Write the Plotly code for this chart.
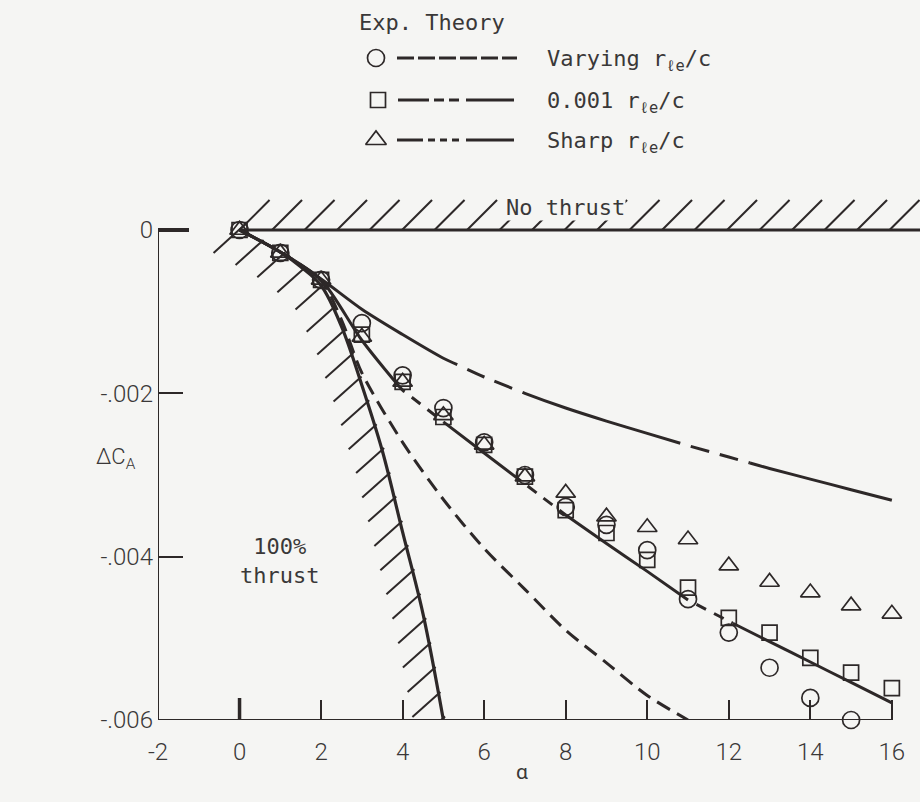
import numpy as np
import plotly.graph_objects as go

W, H = 920, 802
BG = "#f5f5f3"
INK = "#2d2828"
TXT = "#3a3838"
MONO = "DejaVu Sans Mono, Liberation Mono, monospace"
SANS = "Roboto, Liberation Sans, sans-serif"

# ---------------- experimental points ----------------
alpha_exp = [0, 1, 2, 3, 4, 5, 6, 7, 8, 9, 10, 11, 12, 13, 14, 15, 16]
alpha_exp_varying = [0, 1, 2, 3, 4, 5, 6, 7, 8, 9, 10, 11, 12, 13, 14, 15]
dca_varying = [0, -0.00028, -0.00061, -0.00114, -0.00178, -0.00218, -0.00260, -0.00300,
               -0.00339, -0.00361, -0.00392, -0.00452, -0.00493, -0.00536, -0.00573, -0.00600]
dca_001 = [0, -0.00028, -0.00061, -0.00128, -0.00186, -0.00229, -0.00263, -0.00302,
           -0.00343, -0.00371, -0.00404, -0.00438, -0.00475, -0.00493, -0.00524, -0.00542, -0.00561]
dca_sharp = [0, -0.00028, -0.00061, -0.00131, -0.00186, -0.00227, -0.00263, -0.00302,
             -0.00322, -0.00351, -0.00364, -0.00379, -0.00411, -0.00431, -0.00444, -0.00460, -0.00470]

# ---------------- theory curves ----------------
alpha_th = [0, 1, 2, 3, 4, 5, 6, 7, 8, 9, 10, 11, 12, 13, 14, 15, 16]
th_sharp = [0, -0.00027, -0.00060, -0.00097, -0.00128, -0.00157, -0.00180, -0.00200, -0.00218,
            -0.00234, -0.00249, -0.00264, -0.00278, -0.00292, -0.00305, -0.00318, -0.00331]
th_001 = [0, -0.00027, -0.00061, -0.00135, -0.00196, -0.00235, -0.00273, -0.00311, -0.00349,
          -0.00384, -0.00418, -0.00453, -0.00479, -0.00504, -0.00529, -0.00554, -0.00579]
alpha_th_varying = [0, 1, 2, 2.5, 3, 4, 5, 6, 7, 8, 9, 10, 11]
th_varying = [0, -0.00027, -0.00062, -0.00110, -0.00175, -0.00260, -0.00330, -0.00390,
              -0.00440, -0.00490, -0.00530, -0.00570, -0.00600]
# 100% thrust boundary
alpha_full = [0, 1, 1.5, 2, 2.5, 3, 3.5, 4, 4.5, 5]
th_full = [0, -0.00027, -0.00045, -0.00068, -0.00118, -0.00190, -0.00270, -0.00370, -0.00470, -0.00600]

# alpha intervals where the mixed-style theory curves are drawn dashed
sharp_dashed = [(5.34, 6.94), (10.81, 12.52)]
c001_dashed = [(4.05, 5.0), (6.9, 8.0), (11.0, 12.1)]

x_ticks = [-2, 0, 2, 4, 6, 8, 10, 12, 14, 16]
x_ticktext = ["-2", "0", "2", "4", "6", "8", "10", "12", "14", "16"]
y_ticks = [0, -0.002, -0.004, -0.006]
y_ticktext = ["0", "-.002", "-.004", "-.006"]

# ---------------- plot geometry ----------------
XMIN, XMAX = -2.0, 16.69
YMIN, YMAX = -0.006, 0.0006
PX_LEFT, PX_RIGHT = 158.0, 920.0
PX_BOTTOM, PX_TOP = 720.0, 181.0
pxa = (PX_RIGHT - PX_LEFT) / (XMAX - XMIN)      # pixels per degree
pyv = (PX_BOTTOM - PX_TOP) / (YMAX - YMIN)      # pixels per unit delta C_A

fig = go.Figure()


def add_hatch(xs, ys):
    fig.add_trace(go.Scatter(x=xs, y=ys, mode="lines", line=dict(color=INK, width=2),
                             hoverinfo="skip", showlegend=False))


# hatching above the no-thrust line
hx, hy = [], []
x0 = 0.0
while x0 < XMAX:
    hx += [x0, x0 + 30 / pxa, None]
    hy += [0.0, 30 / pyv, None]
    x0 += 32.5 / pxa
add_hatch(hx, hy)

# hatching on the left of the 100% thrust boundary
ad = np.linspace(alpha_full[0], alpha_full[-1], 2000)
vd = np.interp(ad, alpha_full, th_full)
X = ad * pxa
Y = -vd * pyv
s = np.concatenate([[0], np.cumsum(np.hypot(np.diff(X), np.diff(Y)))])
hx, hy = [], []
for k, si in enumerate(np.arange(0, s[-1] + 1, 25.0)):
    i = min(int(np.searchsorted(s, si)), len(ad) - 1)
    a, v = float(ad[i]), float(vd[i])
    up = 7 if k == 0 else 2
    hx += [a + up / pxa, a - 26 / pxa, None]
    hy += [v + up / pyv, v - 23 / pyv, None]
add_hatch(hx, hy)

# no-thrust line
fig.add_trace(go.Scatter(x=[0, XMAX], y=[0, 0], mode="lines", line=dict(color=INK, width=3),
                         hoverinfo="skip", showlegend=False))
# 100% thrust line
fig.add_trace(go.Scatter(x=alpha_full, y=th_full, mode="lines", line=dict(color=INK, width=3.2, shape="spline"),
                         hoverinfo="skip", showlegend=False))


def split_curve(xs, ys, dashed):
    xs = np.asarray(xs, float)
    ys = np.asarray(ys, float)
    bounds = [xs[0]]
    for a, b in dashed:
        bounds += [a, b]
    bounds.append(xs[-1])
    segs = []
    for k in range(len(bounds) - 1):
        lo, hi = bounds[k], bounds[k + 1]
        inner = xs[(xs > lo) & (xs < hi)]
        sx = np.concatenate([[lo], inner, [hi]])
        segs.append((sx.tolist(), np.interp(sx, xs, ys).tolist(), k % 2 == 1))
    return segs


def add_mixed(xs, ys, dashed, dash):
    for sx, sy, is_dash in split_curve(xs, ys, dashed):
        fig.add_trace(go.Scatter(x=sx, y=sy, mode="lines",
                                 line=dict(color=INK, width=3, shape="spline", smoothing=0.8,
                                           dash=dash if is_dash else "solid"),
                                 hoverinfo="skip", showlegend=False))


# varying-radius theory: dashed throughout
fig.add_trace(go.Scatter(x=alpha_th_varying, y=th_varying, mode="lines",
                         line=dict(color=INK, width=3, shape="spline", smoothing=0.8, dash="15px,8px"),
                         hoverinfo="skip", showlegend=False))
add_mixed(alpha_th, th_001, c001_dashed, "0px,9px,11px,0px")
add_mixed(alpha_th, th_sharp, sharp_dashed, "0px,11px,19px,0px")

# experimental symbols
mk = dict(color=INK, width=1.7)
fig.add_trace(go.Scatter(x=alpha_exp_varying, y=dca_varying, mode="markers", cliponaxis=False,
                         marker=dict(symbol="circle-open", size=17, line=mk, color=INK), showlegend=False))
fig.add_trace(go.Scatter(x=alpha_exp, y=dca_001, mode="markers", cliponaxis=False,
                         marker=dict(symbol="square-open", size=15, line=mk, color=INK), showlegend=False))
fig.add_trace(go.Scatter(x=alpha_exp, y=dca_sharp, mode="markers", cliponaxis=False,
                         marker=dict(symbol="triangle-up-open", size=17, line=mk, color=INK), showlegend=False))

# axes frame, with the heavier zero ticks
fig.add_shape(type="line", x0=XMIN, x1=XMIN, y0=0, y1=YMIN, xref="x", yref="y", line=dict(color=INK, width=2))
fig.add_shape(type="line", x0=XMIN, x1=16, y0=YMIN, y1=YMIN, xref="x", yref="y", line=dict(color=INK, width=2))
fig.add_shape(type="line", x0=XMIN, x1=XMIN + 31 / pxa, y0=0, y1=0, xref="x", yref="y",
              line=dict(color=INK, width=4))
fig.add_shape(type="line", x0=0, x1=0, y0=YMIN, y1=YMIN + 22 / pyv, xref="x", yref="y",
              line=dict(color=INK, width=3.5))

# ---------------- key ----------------
key_rows = [58, 100, 140]
fig.add_trace(go.Scatter(x=[376], y=[key_rows[0]], xaxis="x2", yaxis="y2", mode="markers",
                         marker=dict(symbol="circle-open", size=17, line=mk, color=INK), showlegend=False))
fig.add_trace(go.Scatter(x=[378], y=[key_rows[1]], xaxis="x2", yaxis="y2", mode="markers",
                         marker=dict(symbol="square-open", size=15, line=mk, color=INK), showlegend=False))
fig.add_trace(go.Scatter(x=[376], y=[key_rows[2]], xaxis="x2", yaxis="y2", mode="markers",
                         marker=dict(symbol="triangle-up-open", size=18, line=mk, color=INK), showlegend=False))


def key_line(xa, xb, yy, dash="solid"):
    fig.add_shape(type="line", x0=xa, x1=xb, y0=yy, y1=yy, xref="x2", yref="y2",
                  line=dict(color=INK, width=3, dash=dash))


key_line(397, 517, key_rows[0], "17px,4px")
for xa, xb in [(398, 429), (434, 444), (449, 459), (466, 514)]:
    key_line(xa, xb, key_rows[1])
for xa, xb in [(397, 423), (428, 435), (440, 447), (452, 459), (466, 514)]:
    key_line(xa, xb, key_rows[2])

ann = []
ann.append(dict(x=357, y=22, xref="x2", yref="y2", text="Exp. Theory", showarrow=False,
                xanchor="left", yanchor="middle", font=dict(family=MONO, size=22, color=TXT)))
for yy, lab in zip(key_rows, ["Varying", "0.001", "Sharp"]):
    ann.append(dict(x=545, y=yy + 2, xref="x2", yref="y2",
                    text=f"{lab} r<sub>\u2113e</sub>/c", showarrow=False,
                    xanchor="left", yanchor="middle", font=dict(family=MONO, size=22, color=TXT)))
ann.append(dict(x=8.0, y=0.00027, xref="x", yref="y", text="No thrust", showarrow=False,
                xanchor="center", yanchor="middle", bgcolor=BG, borderpad=0,
                font=dict(family=MONO, size=22, color=TXT)))
ann.append(dict(x=0.98, y=-0.00405, xref="x", yref="y", text="100%<br>thrust", showarrow=False,
                xanchor="center", yanchor="middle", font=dict(family=MONO, size=22, color=TXT)))
ann.append(dict(x=116, y=458, xref="x2", yref="y2", text="\u0394C<sub>A</sub>", showarrow=False,
                xanchor="center", yanchor="middle", font=dict(family=SANS, size=22, color=TXT, weight=300)))
ann.append(dict(x=522, y=772, xref="x2", yref="y2", text="\u03b1", showarrow=False,
                xanchor="center", yanchor="middle", font=dict(family=SANS, size=21, color=TXT)))

tickfont = dict(family=SANS, size=24, color=TXT, weight=300)
fig.update_layout(
    template="none",
    width=W, height=H, margin=dict(l=0, r=0, t=0, b=0, pad=0),
    paper_bgcolor=BG, plot_bgcolor="rgba(0,0,0,0)", showlegend=False,
    annotations=ann,
    xaxis=dict(domain=[PX_LEFT / W, PX_RIGHT / W], range=[XMIN, XMAX], tickvals=x_ticks,
               ticktext=x_ticktext, ticks="inside", ticklen=20, tickwidth=2, tickcolor=INK,
               showgrid=False, zeroline=False, ticklabelstandoff=15,
               showline=False, tickfont=tickfont, anchor="y", fixedrange=True, automargin=False),
    yaxis=dict(domain=[(H - PX_BOTTOM) / H, (H - PX_TOP) / H], range=[YMIN, YMAX], tickvals=y_ticks,
               ticktext=y_ticktext, ticks="inside", ticklen=25, tickwidth=2, tickcolor=INK,
               showgrid=False, zeroline=False, showline=False, tickfont=tickfont, anchor="x",
               ticklabelstandoff=4, fixedrange=True, automargin=False),
    xaxis2=dict(domain=[0, 1], range=[0, W], visible=False, anchor="y2", fixedrange=True, automargin=False),
    yaxis2=dict(domain=[0, 1], range=[H, 0], visible=False, anchor="x2", fixedrange=True, automargin=False),
)

fig.write_html("out.html")
